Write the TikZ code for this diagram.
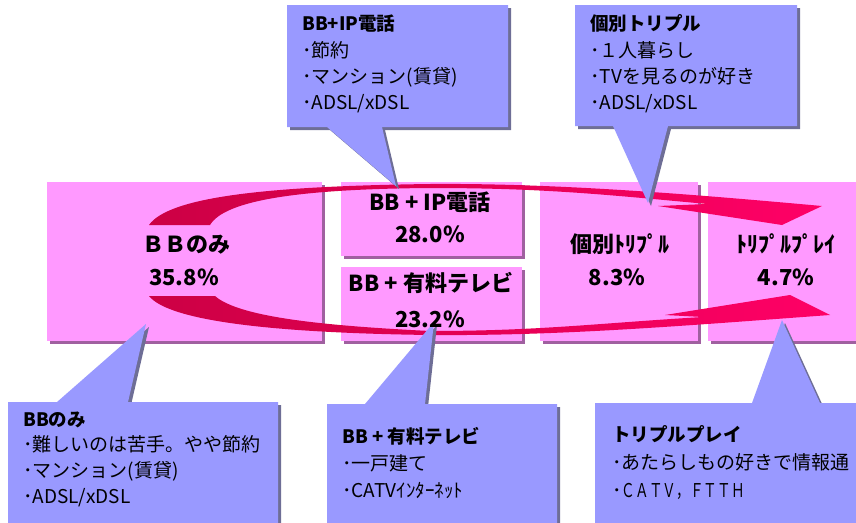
\documentclass[tikz,border=0pt]{standalone}
\usepackage{fontspec}
\usepackage{graphicx}
\setmainfont{Noto Sans CJK JP}
\usetikzlibrary{shadows}
\definecolor{boxpink}{RGB}{255,153,255}
\definecolor{pinkshadow}{RGB}{160,96,160}
\definecolor{callblue}{RGB}{153,153,255}
\definecolor{callshadow}{RGB}{110,110,150}
\definecolor{arrdark}{RGB}{204,0,68}
\definecolor{arrlight}{RGB}{255,0,102}
\begin{document}
\begin{tikzpicture}[x=1pt,y=-1pt,
  pinkbox/.style={fill=boxpink, inner sep=0pt, drop shadow={shadow xshift=3pt,shadow yshift=-3pt,fill=pinkshadow,opacity=1}},
  callout/.style={fill=callblue, drop shadow={shadow xshift=3pt,shadow yshift=-3pt,fill=callshadow,opacity=1}},
  boxlabel/.style={anchor=base, font=\fontsize{22}{26}\selectfont\bfseries, inner sep=0pt},
  calltext/.style={anchor=base west, font=\fontsize{19}{22}\selectfont, inner sep=0pt},
  calltitle/.style={anchor=base west, font=\fontsize{18.5}{22}\selectfont\bfseries, inner sep=0pt},
  bigarrow/.style={left color=arrdark, right color=arrlight}]
\useasboundingbox (0,0) rectangle (856,522);
\clip (0,0) rectangle (856,522);

% pink boxes
\node[pinkbox, minimum width=275pt, minimum height=159pt] (boxA) at (184.5,261.5) {};
\node[pinkbox, minimum width=181pt, minimum height=74pt] (boxB) at (431.5,219) {};
\node[pinkbox, minimum width=181pt, minimum height=74pt] (boxC) at (431.5,304) {};
\node[pinkbox, minimum width=158pt, minimum height=159pt] (boxD) at (619,261.5) {};
\node[pinkbox, minimum width=156pt, minimum height=159pt] (boxE) at (786,261.5) {};

% big curved arrows
\path[bigarrow] (149,225) .. controls (170,195) and (280,186) .. (430,184)
  .. controls (560,183) and (700,195) .. (822,206) -- (782,225) -- (658,206) -- (707,204)
  .. controls (600,194) and (540,188) .. (430,188)
  .. controls (300,189) and (225,200) .. (210,225) -- cycle;
\path[bigarrow] (149,296) .. controls (170,322) and (280,333) .. (430,335)
  .. controls (560,336) and (680,326) .. (830,315) -- (790,295) -- (665,315) -- (703,317)
  .. controls (600,323) and (540,331) .. (430,331)
  .. controls (330,326) and (240,318) .. (215,296) -- cycle;

% callouts
\path[callout] (287,5) -- (508,5) -- (508,127) -- (382,127) -- (396,186) -- (327,127) -- (287,127) -- cycle;
\path[callout] (575,5) -- (797,5) -- (797,126) -- (668,126) -- (648,203) -- (613,126) -- (575,126) -- cycle;
\path[callout] (8,402) -- (57,402) -- (146,324) -- (128,402) -- (278,402) -- (278,540) -- (8,540) -- cycle;
\path[callout] (327,404) -- (365,404) -- (434,322) -- (425,404) -- (557,404) -- (557,540) -- (327,540) -- cycle;
\path[callout] (595,403) -- (752,403) -- (782,320) -- (820,403) -- (880,403) -- (880,540) -- (595,540) -- cycle;

% box labels
\node[boxlabel] (la1) at (186,252) {ＢＢのみ};
\node[boxlabel] (la2) at (184,285) {35.8\%};
\node[boxlabel] (lb1) at (430,210) {BB + IP電話};
\node[boxlabel] (lb2) at (430,242) {28.0\%};
\node[boxlabel] (lc1) at (431,291) {BB + 有料テレビ};
\node[boxlabel] (lc2) at (430,327) {23.2\%};
\node[boxlabel] (ld1) at (620,252) {個別ﾄﾘﾌﾟﾙ};
\node[boxlabel] (ld2) at (617,285) {8.3\%};
\node[boxlabel] (le1) at (786,252) {ﾄﾘﾌﾟﾙﾌﾟﾚｲ};
\node[boxlabel] (le2) at (786,285) {4.7\%};

% callout texts
\node[calltitle] (t1a) at (302,30) {BB+IP電話};
\node[calltext] (t1b) at (302,57) {･節約};
\node[calltext] (t1c) at (302,83) {･マンション(賃貸)};
\node[calltext] (t1d) at (302,109) {･ADSL/xDSL};

\node[calltitle] (t2a) at (590,30) {個別トリプル};
\node[calltext] (t2b) at (590,57) {･１人暮らし};
\node[calltext] (t2c) at (590,83) {･TVを見るのが好き};
\node[calltext] (t2d) at (590,109) {･ADSL/xDSL};

\node[calltitle] (t3a) at (23,426) {BBのみ};
\node[calltext] (t3b) at (23,451) {･難しいのは苦手。やや節約};
\node[calltext] (t3c) at (23,477) {･マンション(賃貸)};
\node[calltext] (t3d) at (23,503) {･ADSL/xDSL};

\node[calltitle] (t4a) at (342,443) {BB + 有料テレビ};
\node[calltext] (t4b) at (342,470) {･一戸建て};
\node[calltext] (t4c) at (342,497) {･CATVｲﾝﾀｰﾈｯﾄ};

\node[calltitle] (t5a) at (612,441) {トリプルプレイ};
\node[calltext] (t5b) at (612,469) {･あたらしもの好きで情報通};
\node[calltext] (t5c) at (612,497) {･\scalebox{0.72}[1]{ＣＡＴＶ，ＦＴＴＨ}};
\end{tikzpicture}
\end{document}
